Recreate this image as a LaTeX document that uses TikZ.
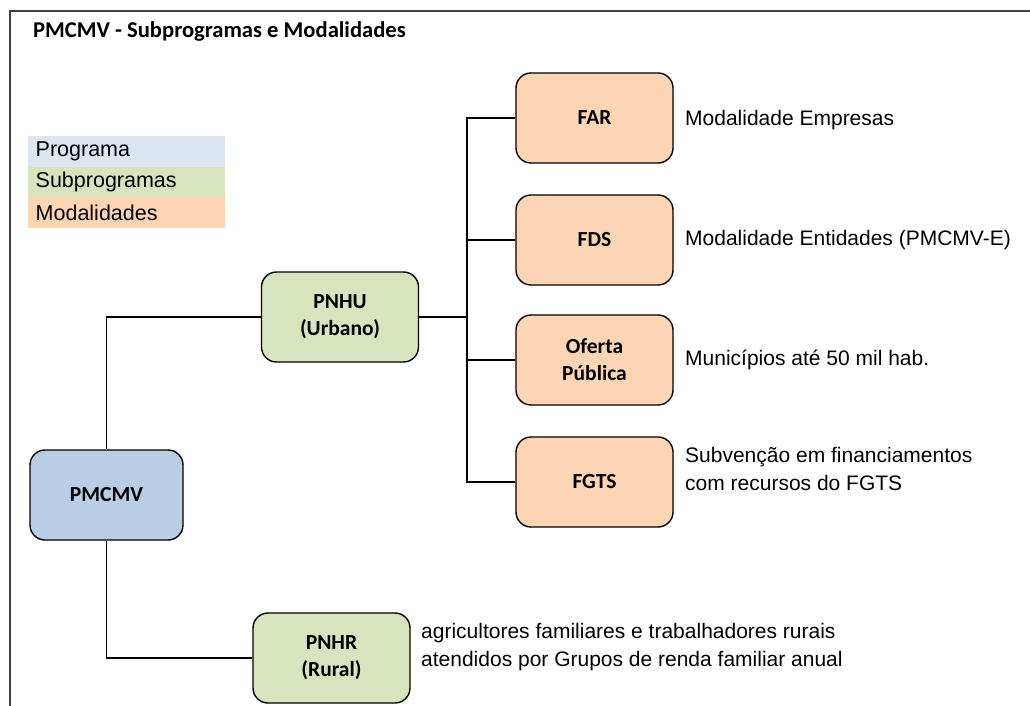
\documentclass[tikz,border=0pt]{standalone}
\usepackage{fontspec}
\setmainfont{Liberation Sans}
\newfontfamily\calfont{Carlito}
\definecolor{progfill}{HTML}{B9CDE5}
\definecolor{proglegend}{HTML}{DCE6F1}
\definecolor{subfill}{HTML}{D7E4BD}
\definecolor{modfill}{HTML}{FCD5B5}
\definecolor{framegray}{HTML}{404040}
\begin{document}
\begin{tikzpicture}[x=1pt,y=-1pt,
  box/.style={draw=black, line width=1.4pt, rounded corners=15pt, inner sep=0pt,
    align=center, font=\calfont\bfseries\fontsize{21.5}{27}\selectfont},
  progbox/.style={box, fill=progfill, minimum width=153pt, minimum height=90pt},
  subbox/.style={box, fill=subfill, minimum width=157pt, minimum height=90pt},
  modbox/.style={box, fill=modfill, minimum width=157pt, minimum height=90pt},
  lbl/.style={anchor=west, inner sep=0pt, align=left, font=\fontsize{21}{28}\selectfont},
  legrow/.style={anchor=north west, inner sep=0pt, minimum width=197pt, minimum height=30.5pt,
    text width=192pt, align=left, font=\fontsize{21.5}{24}\selectfont},
  conn/.style={draw=black, line width=1.2pt}
]
\useasboundingbox (0,0) rectangle (1030,706);
% frame
\draw[framegray, line width=2pt] (10,706) -- (10,11) -- (1030,11);
% title
\node[anchor=west, inner sep=0pt, font=\calfont\bfseries\fontsize{22.6}{26}\selectfont] (title) at (33,31) {PMCMV - Subprogramas e Modalidades};
% legend
\node[legrow, fill=proglegend] (lg1) at (28,136) {\hspace*{5pt}Programa};
\node[legrow, fill=subfill] (lg2) at (28,166.5) {\hspace*{5pt}Subprogramas};
\node[legrow, fill=modfill] (lg3) at (28,197) {\hspace*{5pt}Modalidades};
% nodes
\node[progbox] (pmcmv) at (106.5,495) {PMCMV};
\node[subbox] (pnhu) at (340,317) {PNHU\\(Urbano)};
\node[subbox] (pnhr) at (331.5,658) {PNHR\\(Rural)};
\node[modbox] (far) at (594.5,118) {FAR};
\node[modbox] (fds) at (594.5,240) {FDS};
\node[modbox] (of) at (594.5,360) {Oferta\\Pública};
\node[modbox] (fgts) at (594.5,482) {FGTS};
% connectors
\coordinate (t) at (467,317);
\draw[conn] (pmcmv.north) |- (pnhu.west);
\draw[conn] (pmcmv.south) |- (pnhr.west);
\draw[conn] (pnhu.east) -- (t);
\draw[conn] (t) |- (far.west);
\draw[conn] (t) |- (fds.west);
\draw[conn] (t) |- (of.west);
\draw[conn] (t) |- (fgts.west);
% labels
\node[lbl] (lfar) at (685,120) {Modalidade Empresas};
\node[lbl] (lfds) at (685,240) {Modalidade Entidades (PMCMV-E)};
\node[lbl] (lof) at (685,360) {Municípios até 50 mil hab.};
\node[lbl] (lfgts) at (685,469) {Subvenção em financiamentos\\com recursos do FGTS};
\node[lbl] (lpnhr) at (421,647) {agricultores familiares e trabalhadores rurais\\atendidos por Grupos de renda familiar anual};
\end{tikzpicture}
\end{document}
